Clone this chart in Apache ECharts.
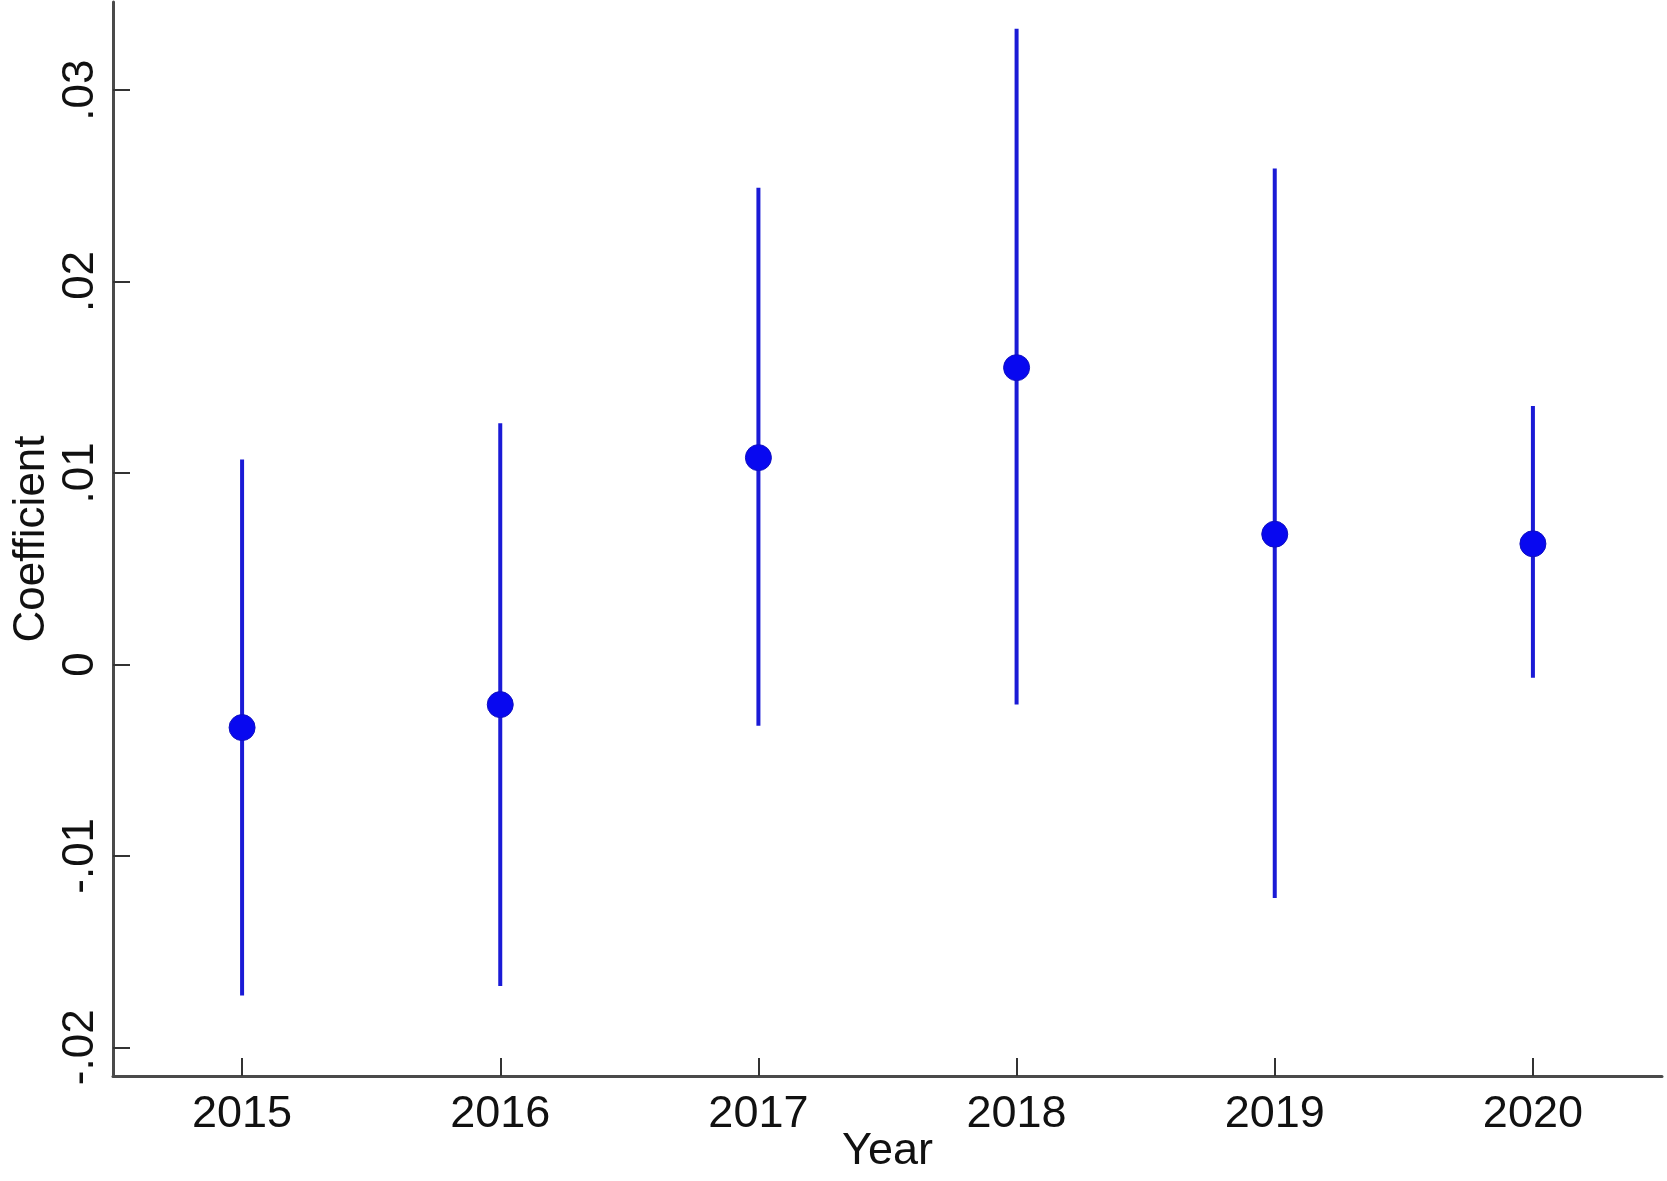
<!DOCTYPE html>
<html>
<head>
<meta charset="utf-8">
<script src="https://cdn.jsdelivr.net/npm/echarts@6/dist/echarts.min.js"></script>
<style>
  html, body { margin: 0; padding: 0; background: #fff; }
  #chart { width: 1667px; height: 1181px; }
</style>
</head>
<body>
<div id="chart"></div>
<script>
// ---- data ----
const years = [2015, 2016, 2017, 2018, 2019, 2020];
const coef  = [-0.0033, -0.0021, 0.0108, 0.0155, 0.0068, 0.0063];
const ciLow = [-0.0173, -0.0168, -0.0032, -0.0021, -0.0122, -0.0007];
const ciHigh= [0.0107, 0.0126, 0.0249, 0.0332, 0.0259, 0.0135];
const yTicks = [-0.02, -0.01, 0, 0.01, 0.02, 0.03];
const xTicks = [2015, 2016, 2017, 2018, 2019, 2020];

const FONT = '"Liberation Sans", Arial, sans-serif';
const fmtY = v => {
  const r = Math.round(v * 100) / 100;
  if (r === 0) return '0';
  let s = String(r);
  return s.replace(/^(-?)0\./, '$1.');
};

const chart = echarts.init(document.getElementById('chart'), null, { renderer: 'canvas' });
chart.setOption({
  backgroundColor: '#fff',
  animation: false,
  grid: { left: 113, right: 5, top: 2, bottom: 105, containLabel: false, outerBoundsMode: 'none' },
  xAxis: {
    type: 'value', min: 2014.5, max: 2020.5,
    name: 'Year', nameLocation: 'middle', nameGap: 53, nameMoveOverlap: false,
    nameTextStyle: { fontFamily: FONT, fontSize: 45, color: '#111' },
    splitLine: { show: false },
    axisLine: { show: true, onZero: false, lineStyle: { color: '#4a4a4a', width: 3 } },
    axisTick: { show: true, inside: true, length: 18, customValues: xTicks, lineStyle: { color: '#333', width: 2 } },
    axisLabel: { customValues: xTicks, margin: 16, fontFamily: FONT, fontSize: 45, color: '#111', formatter: v => String(v) }
  },
  yAxis: {
    type: 'value', min: -0.0215, max: 0.0346,
    name: 'Coefficient', nameLocation: 'middle', nameGap: 59, nameRotate: 90, nameMoveOverlap: false,
    nameTextStyle: { fontFamily: FONT, fontSize: 44, color: '#111' },
    splitLine: { show: false },
    axisLine: { show: true, onZero: false, lineStyle: { color: '#4a4a4a', width: 3 } },
    axisTick: { show: true, inside: true, length: 17, customValues: yTicks, lineStyle: { color: '#333', width: 2 } },
    axisLabel: { customValues: yTicks, rotate: 90, margin: 10, fontFamily: FONT, fontSize: 44, color: '#111', formatter: fmtY }
  },
  series: [
    {
      type: 'custom',
      data: years.map((y, i) => [y, ciLow[i], ciHigh[i]]),
      renderItem: (params, api) => {
        const p1 = api.coord([api.value(0), api.value(1)]);
        const p2 = api.coord([api.value(0), api.value(2)]);
        return {
          type: 'line',
          shape: { x1: p1[0], y1: p1[1], x2: p2[0], y2: p2[1] },
          style: { stroke: '#1a1ad6', lineWidth: 4 }
        };
      },
      z: 2
    },
    {
      type: 'scatter',
      data: years.map((y, i) => [y, coef[i]]),
      symbol: 'circle',
      symbolSize: 26,
      itemStyle: { color: '#0808f0', borderColor: '#1010c0', borderWidth: 1, opacity: 1 },
      z: 3
    }
  ]
});
</script>
</body>
</html>
